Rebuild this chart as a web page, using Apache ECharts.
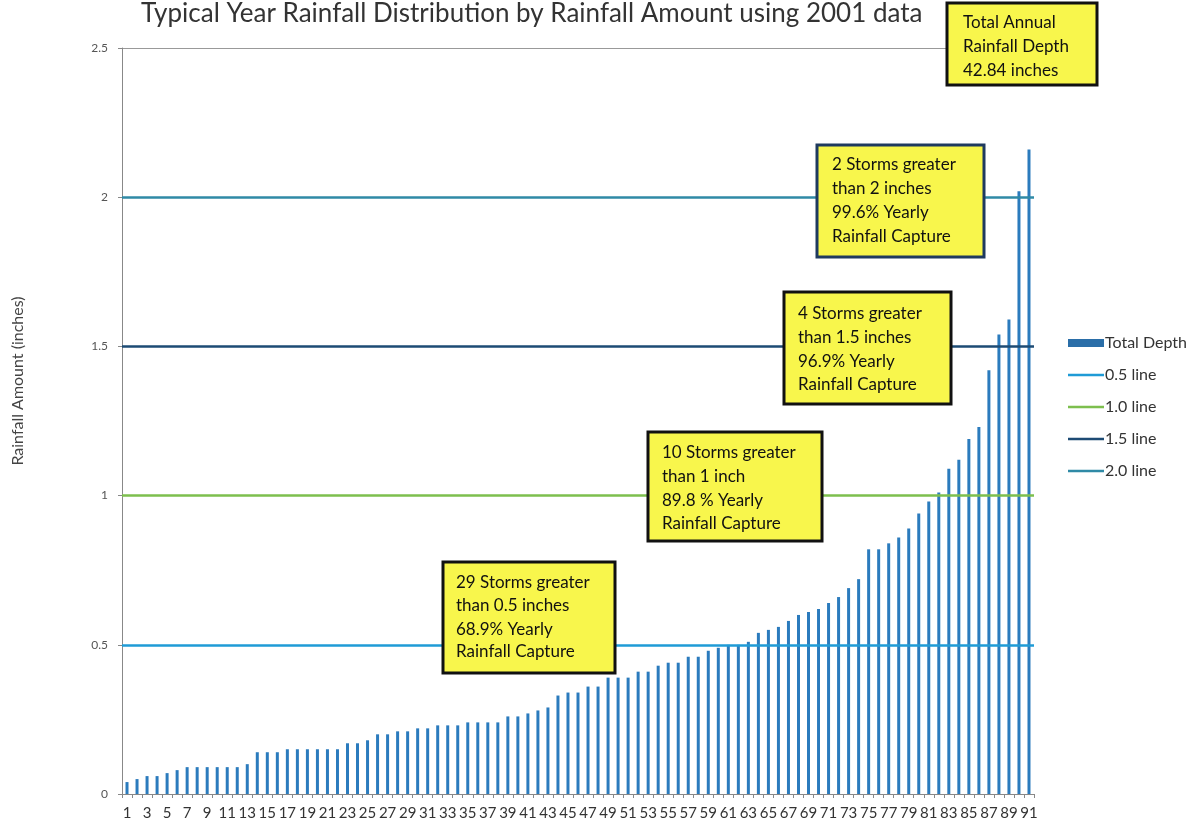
<!DOCTYPE html>
<html>
<head>
<meta charset="utf-8">
<script src="https://cdn.jsdelivr.net/npm/echarts@6/dist/echarts.min.js"></script>
<style>
html,body{margin:0;padding:0;background:#fff;}
#chart{width:1200px;height:827px;}
</style>
</head>
<body>
<div id="chart"></div>
<script>
const categories = [1,2,3,4,5,6,7,8,9,10,11,12,13,14,15,16,17,18,19,20,21,22,23,24,25,26,27,28,29,30,31,32,33,34,35,36,37,38,39,40,41,42,43,44,45,46,47,48,49,50,51,52,53,54,55,56,57,58,59,60,61,62,63,64,65,66,67,68,69,70,71,72,73,74,75,76,77,78,79,80,81,82,83,84,85,86,87,88,89,90,91];
const totalDepth = [0.04,0.05,0.06,0.06,0.07,0.08,0.09,0.09,0.09,0.09,0.09,0.09,0.10,0.14,0.14,0.14,0.15,0.15,0.15,0.15,0.15,0.15,0.17,0.17,0.18,0.20,0.20,0.21,0.21,0.22,0.22,0.23,0.23,0.23,0.24,0.24,0.24,0.24,0.26,0.26,0.27,0.28,0.29,0.33,0.34,0.34,0.36,0.36,0.39,0.39,0.39,0.41,0.41,0.43,0.44,0.44,0.46,0.46,0.48,0.49,0.50,0.50,0.51,0.54,0.55,0.56,0.58,0.60,0.61,0.62,0.64,0.66,0.69,0.72,0.82,0.82,0.84,0.86,0.89,0.94,0.98,1.01,1.09,1.12,1.19,1.23,1.42,1.54,1.59,2.02,2.16];
const lineNames = ['0.5 line','1.0 line','1.5 line','2.0 line'];
const lineLevels = [0.5, 1.0, 1.5, 2.0];
const lineColors = ['#1f9bd6','#7dbf4e','#1d4b74','#2f8aa6'];
const yTicks = [0, 0.5, 1, 1.5, 2, 2.5];
const annotations = [
  {lines:['Total Annual','Rainfall Depth','42.84 inches'], box:[947,3,150,82], tx:963, ty:[23,47,71], border:'#111'},
  {lines:['2 Storms greater','than 2 inches','99.6% Yearly','Rainfall Capture'], box:[817,145,167,112], tx:832, ty:[165,189,213,237], border:'#1f3a5f'},
  {lines:['4 Storms greater','than 1.5 inches','96.9% Yearly','Rainfall Capture'], box:[784,292,167,112], tx:798, ty:[314,338,362,385], border:'#111'},
  {lines:['10 Storms greater','than 1 inch','89.8 % Yearly','Rainfall Capture'], box:[648,432,174,109], tx:662, ty:[453,477,501,524], border:'#111'},
  {lines:['29 Storms greater','than 0.5 inches','68.9% Yearly','Rainfall Capture'], box:[443,562,172,111], tx:456, ty:[583,606,630,652], border:'#111'}
];
const FONT = 'Lato, "Open Sans", sans-serif';
const LINE_ICON = 'path://M0,0L40,0L40,3L0,3Z';

const chart = echarts.init(document.getElementById('chart'), null, {renderer:'canvas'});

const graphics = [];
annotations.forEach(a => {
  graphics.push({type:'rect', z:100, shape:{x:a.box[0], y:a.box[1], width:a.box[2], height:a.box[3]},
    style:{fill:'#f8f64c', stroke:a.border, lineWidth:3}});
  a.lines.forEach((t,i) => {
    graphics.push({type:'text', z:101, x:a.tx, y:a.ty[i], style:{text:t, fill:'#111', font:'17px ' + FONT, textVerticalAlign:'middle'}});
  });
});
graphics.push({type:'text', z:101, x:18, y:381, rotation:Math.PI/2,
  style:{text:'Rainfall Amount (inches)', fill:'#444', font:'16px ' + FONT, textAlign:'center', textVerticalAlign:'middle'}});

const series = [{
  name:'Total Depth', type:'bar', data: totalDepth, barWidth:3,
  itemStyle:{color:'#2b7bbd'}, z:2
}];
lineNames.forEach((n,i) => {
  series.push({
    name:n, type:'line', data:[], symbol:'none',
    lineStyle:{color:lineColors[i], width:3}, itemStyle:{color:lineColors[i]},
    markLine:{silent:true, symbol:['none','none'], label:{show:false},
      lineStyle:{color:lineColors[i], width:2.5, type:'solid'},
      data:[{yAxis: lineLevels[i]}]}, z:3
  });
});

chart.setOption({
  animation:false,
  title:{text:'Typical Year Rainfall Distribution by Rainfall Amount using 2001 data', left:136, top:-4,
    textStyle:{fontFamily:FONT, fontSize:26, fontWeight:'normal', color:'#333'}},
  legend:{orient:'vertical', left:1063, top:330, itemGap:16, itemWidth:36, itemHeight:8,
    textStyle:{fontFamily:FONT, fontSize:16, color:'#333', padding:[0,0,0,-4]},
    data:[{name:'Total Depth', icon:'rect', itemStyle:{color:'#2a6ea8'}}]
      .concat(lineNames.map((n,i)=>({name:n, icon:LINE_ICON, itemStyle:{color:lineColors[i]}})))},
  grid:{left:122, right:166, top:48, bottom:33, containLabel:false},
  xAxis:{type:'category', data:categories, boundaryGap:true,
    axisLine:{lineStyle:{color:'#888'}},
    axisTick:{show:true, interval:0, length:4, lineStyle:{color:'#888'}},
    axisLabel:{interval:1, color:'#333', fontFamily:FONT, fontSize:15, margin:12}},
  yAxis:{type:'value', min:yTicks[0], max:yTicks[yTicks.length-1], interval:0.5,
    axisLine:{show:true, lineStyle:{color:'#888'}},
    axisTick:{show:true, length:4, lineStyle:{color:'#888'}},
    axisLabel:{color:'#555', fontFamily:FONT, fontSize:12, margin:14},
    splitLine:{show:true, lineStyle:{color:'#999', width:1}}},
  graphic: graphics,
  series: series
});
</script>
</body>
</html>
